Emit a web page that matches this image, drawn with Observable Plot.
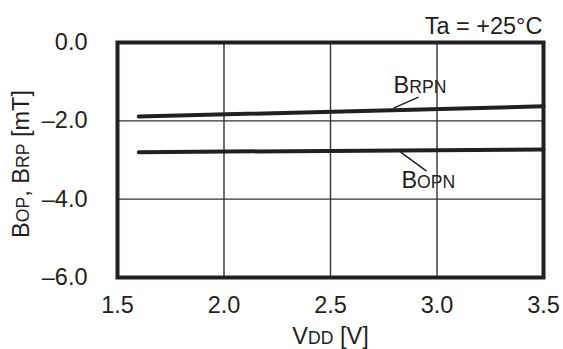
<!DOCTYPE html>
<html><head><meta charset="utf-8">
<script src="https://cdn.jsdelivr.net/npm/d3@7"></script>
<script src="https://cdn.jsdelivr.net/npm/@observablehq/plot@0.6"></script>
<style>
body{margin:0;background:#fff}
svg{font-family:"Liberation Sans",Arial,Helvetica,sans-serif}
</style>
</head><body><div id="chart"></div>
<script>
// ---- data ----
const vdd = [1.6, 3.5];
const brpn = [-1.89, -1.63];
const bopn = [-2.80, -2.73];
const seriesNames = ["BRPN", "BOPN"];
const xTicks = [1.5, 2.0, 2.5, 3.0, 3.5];
const yTicks = [0, -2, -4, -6];
const xGrid = [2.0, 2.5, 3.0];
const yGrid = [-2, -4];
const titleText = "Ta = +25°C";
const xLabel = "VDD [V]";
const yLabel = "BOP, BRP [mT]";
// annotation label anchors (data coords) and leader lines
const labelX = [2.796, 2.833];
const labelY = [-1.085, -3.52];
const leadX1 = [2.913, 2.829];
const leadY1 = [-1.396, -2.80];
const leadX2 = [2.796, 2.951];
const leadY2 = [-1.676, -3.286];

// rich text pieces (text, relative size)
const rich = {
  "BRPN": [["B", 1], ["RPN", 0.75]],
  "BOPN": [["B", 1], ["OPN", 0.75]],
  "VDD [V]": [["V", 1], ["DD", 0.75], [" [V]", 1]],
  "BOP, BRP [mT]": [["B", 1], ["OP", 0.75], [", B", 1], ["RP", 0.75], [" [mT]", 1]]
};

const rows = [];
vdd.forEach((v, i) => rows.push({v, b: brpn[i], s: seriesNames[0]}));
vdd.forEach((v, i) => rows.push({v, b: bopn[i], s: seriesNames[1]}));
const labels = seriesNames.map((s, i) => ({s, x: labelX[i], y: labelY[i]}));
const leaders = seriesNames.map((s, i) => ({x1: leadX1[i], y1: leadY1[i], x2: leadX2[i], y2: leadY2[i]}));

const ink = "#231f20";
const FS = 23.5;
const fmt = d => (d === 0 ? "0.0" : d.toFixed(1).replace("-", "\u2013"));

const chart = Plot.plot({
  width: 563, height: 349,
  marginLeft: 117, marginRight: 20, marginTop: 42, marginBottom: 72,
  style: {fontFamily: "Liberation Sans, Arial, Helvetica, sans-serif", fontSize: FS + "px", color: ink, background: "white"},
  x: {domain: [1.5, 3.5]},
  y: {domain: [-6, 0]},
  marks: [
    Plot.ruleX(xGrid, {stroke: "#333", strokeWidth: 1.4}),
    Plot.ruleY(yGrid, {stroke: "#333", strokeWidth: 1.4}),
    Plot.line(rows, {x: "v", y: "b", z: "s", stroke: ink, strokeWidth: 4}),
    Plot.link(leaders, {x1: "x1", y1: "y1", x2: "x2", y2: "y2", stroke: ink, strokeWidth: 1.5}),
    Plot.frame({stroke: ink, strokeWidth: 4}),
    Plot.axisX(xTicks, {tickSize: 0, tickPadding: 19, tickFormat: fmt, fontSize: FS, label: null}),
    Plot.axisY(yTicks, {tickSize: 0, tickPadding: 30, tickFormat: fmt, fontSize: FS, label: null}),
    Plot.text(labels, {x: "x", y: "y", text: "s", textAnchor: "start", fontSize: FS, fill: ink}),
    Plot.text([titleText], {frameAnchor: "top-right", textAnchor: "end", lineAnchor: "middle", dx: -1, dy: -16, fontSize: FS, fill: ink}),
    Plot.text([xLabel], {frameAnchor: "bottom", lineAnchor: "middle", dy: 59, fontSize: FS, fill: ink}),
    Plot.text([yLabel], {frameAnchor: "left", textAnchor: "middle", lineAnchor: "middle", rotate: -90, dx: -96, dy: 4, fontSize: FS, fill: ink})
  ]
});

// convert rich labels into tspans with smaller-caps subscripts
d3.select(chart).selectAll("text").each(function () {
  const t = this.textContent;
  if (!rich[t]) return;
  const sel = d3.select(this);
  sel.text(null);
  rich[t].forEach(([s, k]) => {
    sel.append("tspan").attr("font-size", (FS * k) + "px").text(s);
  });
});

document.getElementById("chart").appendChild(chart);
</script>
</body></html>
